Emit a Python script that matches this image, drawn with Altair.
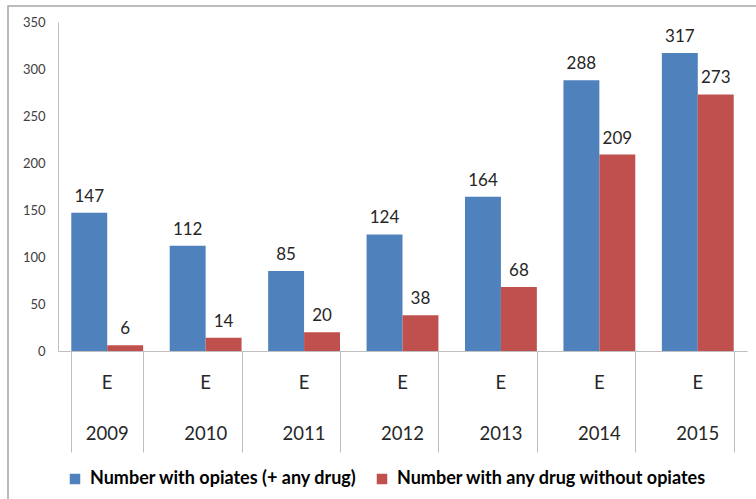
import altair as alt
import pandas as pd

# Annual counts by substance group
years = ["2009", "2010", "2011", "2012", "2013", "2014", "2015"]
with_opiates = [147, 112, 85, 124, 164, 288, 317]
without_opiates = [6, 14, 20, 38, 68, 209, 273]
series_names = ["Number with opiates (+ any drug)", "Number with any drug without opiates"]
series_colors = ["#4F81BD", "#C0504D"]
y_ticks = [0, 50, 100, 150, 200, 250, 300, 350]

rows = []
for i, yr in enumerate(years):
    rows.append({"year": yr, "series": series_names[0], "value": with_opiates[i]})
    rows.append({"year": yr, "series": series_names[1], "value": without_opiates[i]})
df = pd.DataFrame(rows)
years_df = pd.DataFrame({"year": years, "sub": ["E"] * len(years)})

FONT = "Lato"
W, H = 689, 329

x_enc = alt.X(
    "year:N",
    sort=years,
    scale=alt.Scale(paddingInner=0.27, paddingOuter=0.135),
    axis=alt.Axis(
        title=None,
        labels=False,
        domainColor="#bfbfbf",
        tickColor="#bfbfbf",
        tickSize=101,
        tickBand="extent",
    ),
)
y_enc = alt.Y(
    "value:Q",
    scale=alt.Scale(domain=[0, 350], nice=False),
    axis=alt.Axis(
        title=None,
        values=y_ticks,
        ticks=False,
        grid=False,
        domainColor="#bfbfbf",
        labelPadding=13,
        labelFont=FONT,
        labelFontSize=13,
        labelColor="#404040",
    ),
)
offset_enc = alt.XOffset("series:N", sort=series_names)

bars = alt.Chart(df).mark_bar().encode(
    x=x_enc,
    y=y_enc,
    xOffset=offset_enc,
    color=alt.Color(
        "series:N",
        scale=alt.Scale(domain=series_names, range=series_colors),
        legend=alt.Legend(
            title=None,
            orient="none",
            legendX=8,
            legendY=448,
            direction="horizontal",
            symbolType="square",
            symbolSize=110,
            symbolStrokeWidth=0,
            labelFont=FONT,
            labelFontSize=18,
            labelFontWeight="bold",
            labelColor="#000000",
            labelLimit=0,
            columnPadding=16,
            labelOffset=6,
        ),
    ),
)

values = alt.Chart(df).mark_text(
    font=FONT, fontSize=17, color="#262626", baseline="alphabetic", dy=-11
).encode(
    x=alt.X("year:N", sort=years),
    y="value:Q",
    xOffset=offset_enc,
    text="value:Q",
)

sub_labels = alt.Chart(years_df).mark_text(
    font=FONT, fontSize=18.5, color="#262626", baseline="middle"
).encode(
    x=alt.X("year:N", sort=years),
    y=alt.value(H + 32),
    text="sub:N",
)

year_labels = alt.Chart(years_df).mark_text(
    font=FONT, fontSize=18.5, color="#262626", baseline="middle"
).encode(
    x=alt.X("year:N", sort=years),
    y=alt.value(H + 83),
    text="year:N",
)

frame = alt.Chart(pd.DataFrame({"k": [0]})).mark_rect(
    fill=None, stroke="#a6a6a6", strokeWidth=1.5
).encode(
    x=alt.value(-50),
    x2=alt.value(W + 100),
    y=alt.value(-16),
    y2=alt.value(H + 200),
)

chart = (
    alt.layer(frame, bars, values, sub_labels, year_labels)
    .properties(
        width=W,
        height=H,
        autosize="none",
        padding={"left": 58, "top": 22, "right": 9, "bottom": 148},
        background="white",
    )
    .configure_view(stroke=None)
)

chart.save("out.html", embed_options={"renderer": "svg", "actions": False})
